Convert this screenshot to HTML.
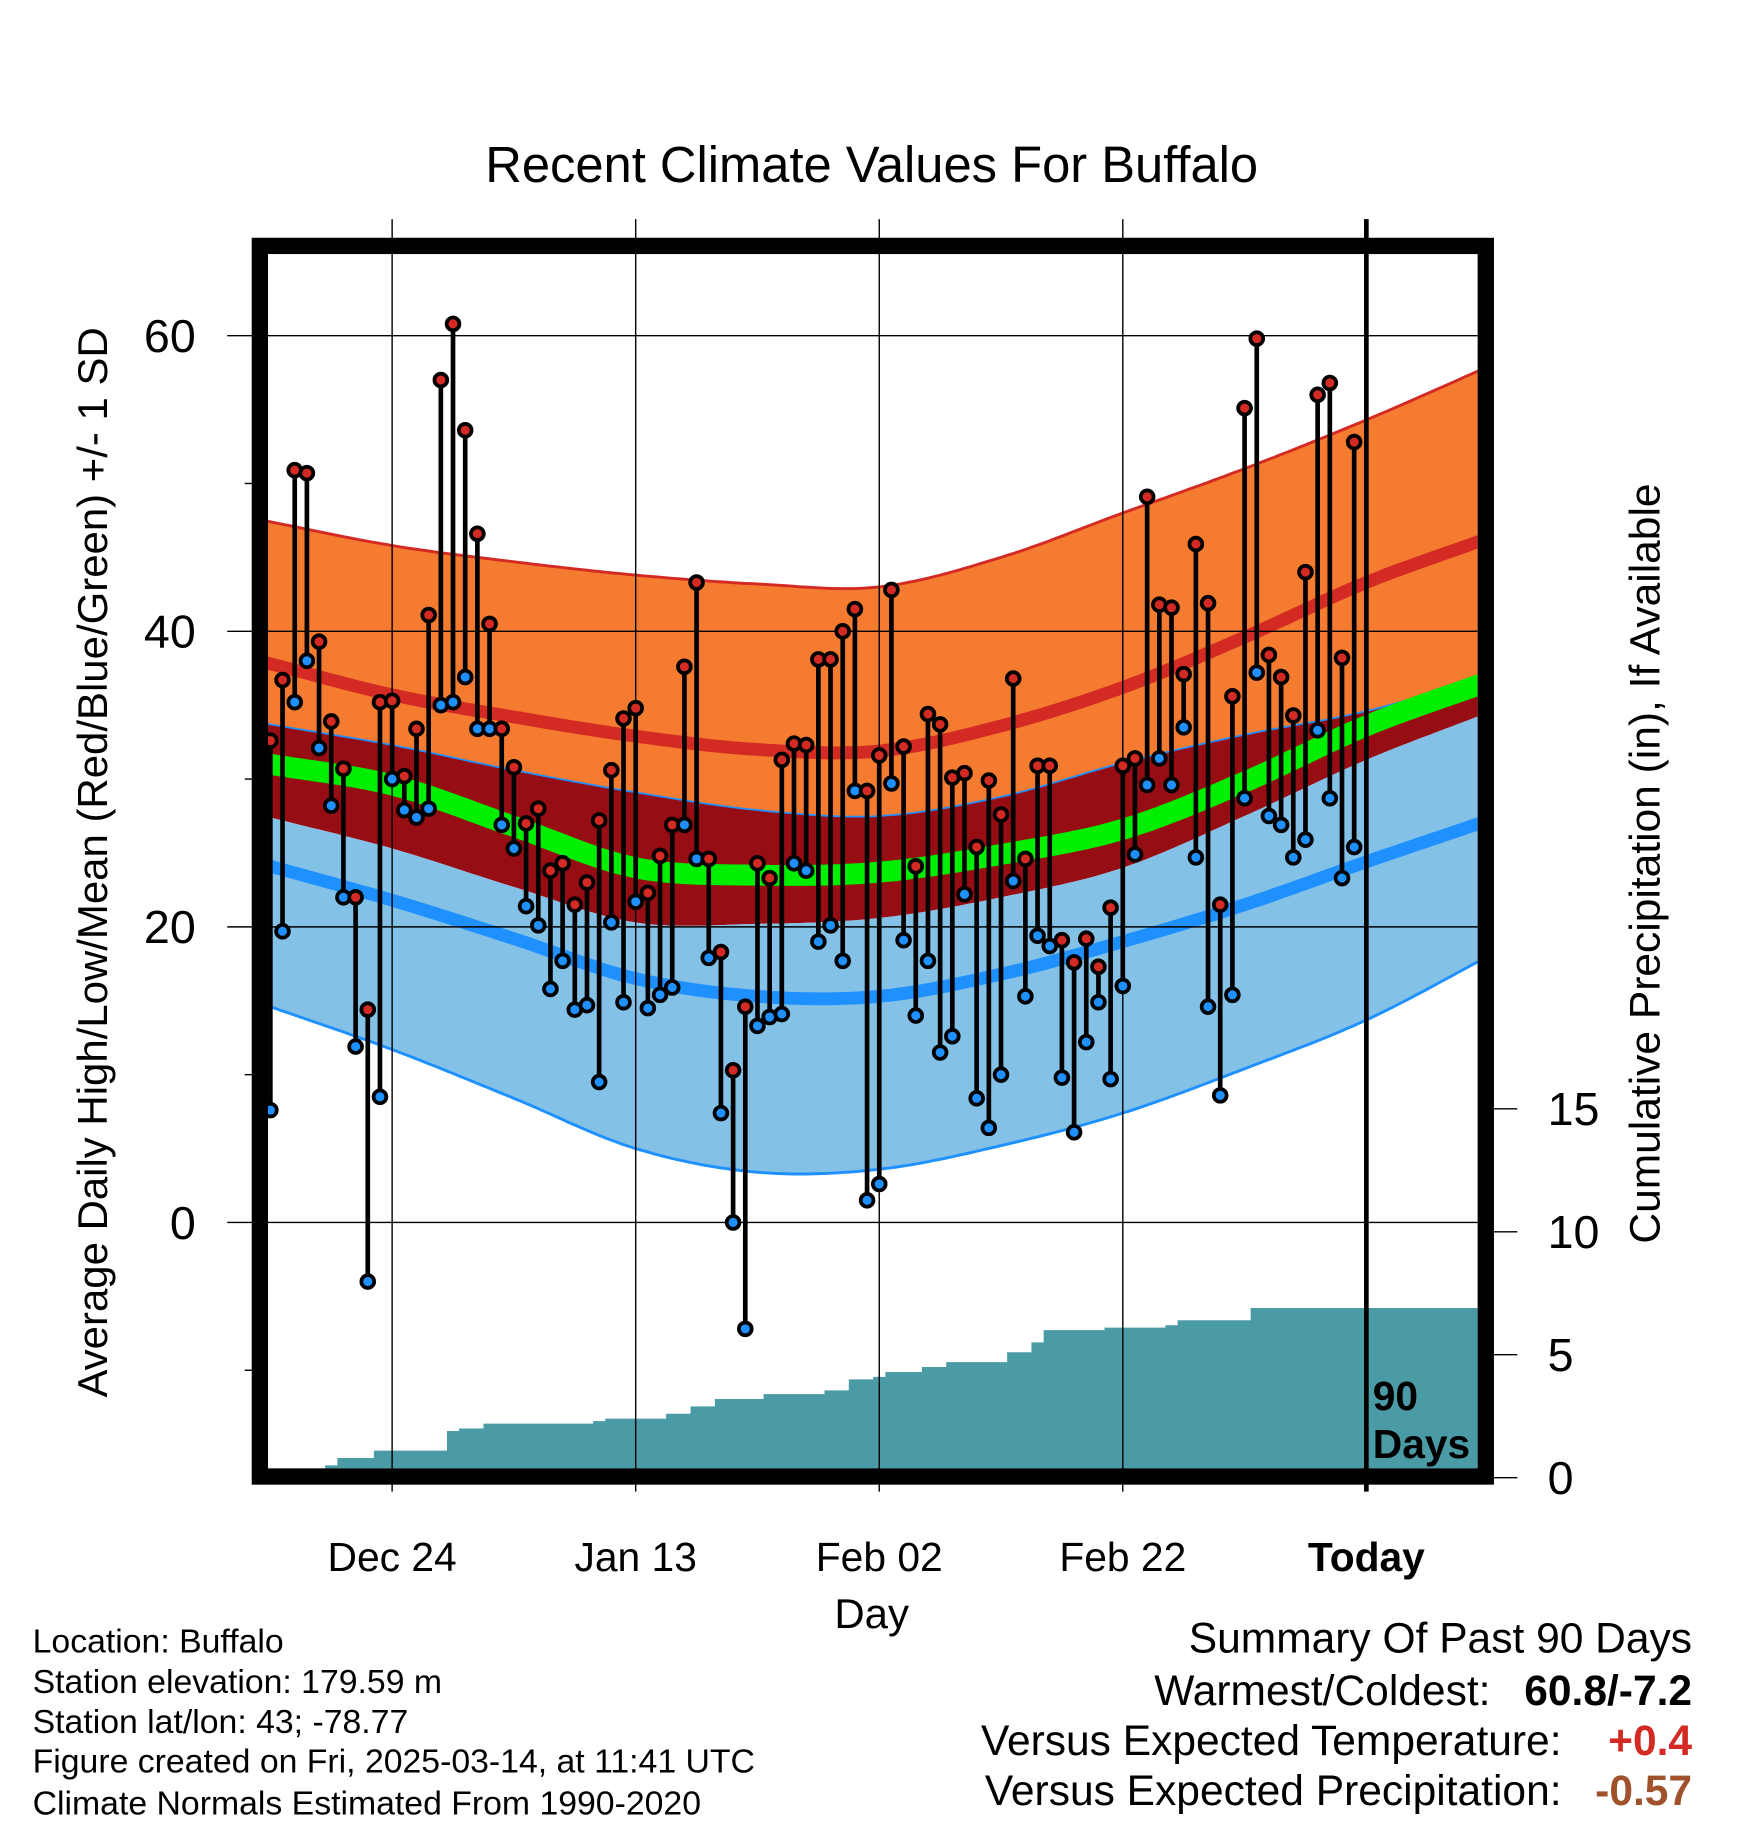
<!DOCTYPE html>
<html><head><meta charset="utf-8"><style>
html,body{margin:0;padding:0;background:#fff}
svg{display:block;font-family:"Liberation Sans",Arial,sans-serif}
</style></head><body>
<svg id="chart" width="1748" height="1828" viewBox="0 0 1500 1568.6" xmlns="http://www.w3.org/2000/svg">
<defs><clipPath id="pc"><rect x="230" y="218" width="1038" height="1042"/></clipPath></defs>
<text x="748" y="156" font-size="43.5" text-anchor="middle">Recent Climate Values For Buffalo</text>
<g id="plot" clip-path="url(#pc)"></g>
<g id="grid"></g>
<g id="marks" clip-path="url(#pc)"></g>
<rect x="223" y="211" width="1052" height="1056" fill="none" stroke="#000" stroke-width="14"/>
<g id="axes"></g>
<text transform="translate(92,740) rotate(-90)" font-size="36" text-anchor="middle">Average Daily High/Low/Mean (Red/Blue/Green) +/- 1 SD</text>
<text transform="translate(1424,741) rotate(-90)" font-size="36.5" text-anchor="middle">Cumulative Precipitation (in), If Available</text>
<text x="748" y="1397" font-size="36" text-anchor="middle">Day</text>
<text x="1178" y="1210" font-size="35" font-weight="bold">90</text>
<text x="1178" y="1251" font-size="35" font-weight="bold">Days</text>
<g font-size="29">
<text x="28" y="1418">Location: Buffalo</text>
<text x="28" y="1453">Station elevation: 179.59 m</text>
<text x="28" y="1487">Station lat/lon: 43; -78.77</text>
<text x="28" y="1521">Figure created on Fri, 2025-03-14, at 11:41 UTC</text>
<text x="28" y="1557">Climate Normals Estimated From 1990-2020</text>
</g>
<g font-size="36.5">
<text x="1452" y="1418" text-anchor="end">Summary Of Past 90 Days</text>
<text x="1279" y="1463" text-anchor="end">Warmest/Coldest:</text>
<text x="1452" y="1463" text-anchor="end" font-weight="bold">60.8/-7.2</text>
<text x="1340" y="1506" text-anchor="end">Versus Expected Temperature:</text>
<text x="1452" y="1506" text-anchor="end" font-weight="bold" fill="#d42a24">+0.4</text>
<text x="1340" y="1549" text-anchor="end">Versus Expected Precipitation:</text>
<text x="1452" y="1549" text-anchor="end" font-weight="bold" fill="#a0522d">-0.57</text>
</g>
</svg>
<script>
const highs=[32.6,36.7,50.9,50.7,39.3,33.9,30.7,22.0,14.4,35.2,35.3,30.2,33.4,41.1,57.0,60.8,53.6,46.6,40.5,33.4,30.8,27.0,28.0,23.8,24.3,21.5,23.0,27.2,30.6,34.1,34.8,22.3,24.8,26.9,37.6,43.3,24.6,18.3,10.3,14.6,24.3,23.3,31.3,32.4,32.3,38.1,38.1,40.0,41.5,29.2,31.6,42.8,32.2,24.1,34.4,33.7,30.1,30.4,25.4,29.9,27.6,36.8,24.6,30.9,30.9,19.1,17.6,19.2,17.3,21.3,30.9,31.4,49.1,41.8,41.6,37.1,45.9,41.9,21.5,35.6,55.1,59.8,38.4,36.9,34.3,44.0,56.0,56.8,38.2,52.8];
const lows=[7.6,19.7,35.2,38.0,32.1,28.2,22.0,11.9,-4.0,8.5,30.0,27.9,27.4,28.0,35.0,35.2,36.9,33.4,33.4,26.9,25.3,21.4,20.1,15.8,17.7,14.4,14.7,9.5,20.3,14.9,21.7,14.5,15.4,15.9,26.9,24.6,17.9,7.4,0.0,-7.2,13.3,13.9,14.1,24.3,23.8,19.0,20.1,17.7,29.2,1.5,2.6,29.7,19.1,14.0,17.7,11.5,12.6,22.2,8.4,6.4,10.0,23.1,15.3,19.4,18.7,9.8,6.1,12.2,14.9,9.7,16.0,24.9,29.6,31.4,29.6,33.5,24.7,14.6,8.6,15.4,28.7,37.2,27.5,26.9,24.7,25.9,33.3,28.7,23.3,25.4];
const precip=[0,0,0,0.1,0.3,0.5,0.8,0.8,0.8,1.1,1.1,1.1,1.1,1.1,1.1,1.9,2.0,2.0,2.2,2.2,2.2,2.2,2.2,2.2,2.2,2.2,2.2,2.3,2.4,2.4,2.4,2.4,2.4,2.6,2.6,2.9,2.9,3.2,3.2,3.2,3.2,3.4,3.4,3.4,3.4,3.4,3.55,3.55,4.0,4.0,4.1,4.3,4.3,4.3,4.5,4.5,4.7,4.7,4.7,4.7,4.7,5.1,5.1,5.5,6.0,6.0,6.0,6.0,6.0,6.1,6.1,6.1,6.1,6.1,6.2,6.4,6.4,6.4,6.4,6.4,6.4,6.9,6.9,6.9,6.9,6.9,6.9,6.9,6.9,6.9];
const normDays=[0,10,20,30,40,50,60,70,80,90,100];
const highUpper=[47.4,45.8,44.7,43.8,43.2,43.0,45.0,48.0,51.0,54.3,57.9];
const highMean=[37.8,35.7,34.2,32.9,32.0,31.9,33.6,36.2,39.6,43.3,46.3];
const highLower=[33.7,32.3,30.6,29.1,27.9,27.5,28.8,31.1,33.0,34.6,37.0];
const meanTemp=[31.0,29.6,26.8,24.0,23.5,23.7,24.9,26.6,29.8,33.6,36.6];
const lowUpper=[27.4,25.3,22.7,20.3,20.2,20.6,22.0,24.0,27.5,31.3,34.5];
const lowMean=[24.1,21.8,19.2,16.5,15.3,15.3,16.8,19.0,21.5,24.4,27.2];
const lowLower=[14.6,11.7,8.4,5.0,3.4,3.6,5.2,7.4,10.4,13.7,18.0];
const yTicks=[0,20,40,60];
const yMinor=[-10,10,30,50];
const pTicks=[0,5,10,15];
const xTickDays=[10,30,50,70,90];
const xTickLabels=["Dec 24","Jan 13","Feb 02","Feb 22","Today"];

const NS="http://www.w3.org/2000/svg";
const X=d=>232+10.45*d;
const Y=v=>1049-12.683*v;
const P=p=>1268-21.1*p;
function mk(tag,attrs,parent){const e=document.createElementNS(NS,tag);for(const k in attrs)e.setAttribute(k,attrs[k]);parent.appendChild(e);return e;}
function interp(vals,d){
  const n=normDays.length;
  let i=0;while(i<n-2&&d>normDays[i+1])i++;
  const x0=normDays[i],x1=normDays[i+1];const t=(d-x0)/(x1-x0);
  const p1=vals[i],p2=vals[i+1];
  const p0=i>0?vals[i-1]:2*p1-p2;
  const p3=i+2<n?vals[i+2]:2*p2-p1;
  const t2=t*t,t3=t2*t;
  return 0.5*((2*p1)+(-p0+p2)*t+(2*p0-5*p1+4*p2-p3)*t2+(-p0+3*p1-3*p2+p3)*t3);
}
function pts(vals){const a=[];for(let d=-1;d<=100;d+=0.5)a.push([X(d),Y(interp(vals,d))]);return a;}
function line(a){return a.map((p,i)=>(i?'L':'M')+p[0].toFixed(1)+','+p[1].toFixed(1)).join('');}
function band(up,lo){const a=pts(up),b=pts(lo).reverse();return line(a)+b.map(p=>'L'+p[0].toFixed(1)+','+p[1].toFixed(1)).join('')+'Z';}
const plot=document.getElementById('plot');
let e;
e=mk('path',{d:band(highUpper,highLower),fill:'#f47b2f'},plot);

e=mk('path',{d:band(highLower,lowUpper),fill:'#960d14'},plot);

e=mk('path',{d:band(lowUpper,lowLower),fill:'#84c1e7'},plot);

e=mk('path',{d:line(pts(highUpper)),fill:'none',stroke:'#d42a24','stroke-width':2.5},plot);

e=mk('path',{d:line(pts(highLower)),fill:'none',stroke:'#1e90ff','stroke-width':1.5},plot);

e=mk('path',{d:line(pts(lowLower)),fill:'none',stroke:'#1e90ff','stroke-width':2.5},plot);

e=mk('path',{d:line(pts(highMean)),fill:'none',stroke:'#d42a24','stroke-width':11},plot);

e=mk('path',{d:line(pts(meanTemp)),fill:'none',stroke:'#00ee00','stroke-width':18},plot);

e=mk('path',{d:line(pts(lowMean)),fill:'none',stroke:'#1e90ff','stroke-width':11},plot);

let pd='M'+X(-0.5)+','+P(0);
precip.forEach((v,i)=>{pd+='L'+X(i-0.5)+','+P(v)+'L'+X(i+0.5)+','+P(v);});
pd+='L'+X(100)+','+P(precip[precip.length-1])+'L'+X(100)+','+P(0)+'Z';
e=mk('path',{d:pd,fill:'#4a9ba5'},plot);


const grid=document.getElementById('grid');
yTicks.forEach(v=>{
  const g=mk('line',{x1:195,x2:1268,y1:Y(v),y2:Y(v),stroke:'#000','stroke-width':1.2},grid);
  
});
xTickDays.forEach((d,i)=>{
  const g=mk('line',{x1:X(d),x2:X(d),y1:188,y2:1280,stroke:'#000','stroke-width':i==4?4:1.2},grid);
  
});
const marks=document.getElementById('marks');
highs.forEach((h,i)=>{
  const s=mk('line',{x1:X(i),x2:X(i),y1:Y(h),y2:Y(lows[i]),stroke:'#000','stroke-width':4},marks);
  
});
highs.forEach((h,i)=>{
  const c=mk('circle',{cx:X(i),cy:Y(lows[i]),r:5.5,fill:'#1e90ff',stroke:'#000','stroke-width':3.2},marks);
  
  const r=mk('circle',{cx:X(i),cy:Y(h),r:5.5,fill:'#d42a24',stroke:'#000','stroke-width':3.2},marks);
  
});
const axes=document.getElementById('axes');
yTicks.forEach(v=>{
  const t=mk('text',{x:168,y:Y(v)+14,'font-size':40,'text-anchor':'end'},axes);t.textContent=v;
  
});
yMinor.forEach(v=>{
  const l=mk('line',{x1:210,x2:222,y1:Y(v),y2:Y(v),stroke:'#000','stroke-width':1.2},axes);
  
});
pTicks.forEach(v=>{
  const l=mk('line',{x1:1282,x2:1302,y1:P(v),y2:P(v),stroke:'#000','stroke-width':1.2},axes);
  
  const t=mk('text',{x:1328,y:P(v)+14,'font-size':40},axes);t.textContent=v;
  
});
xTickDays.forEach((d,i)=>{
  const t=mk('text',{x:X(d),y:1348,'font-size':35,'text-anchor':'middle','font-weight':i==4?'bold':'normal'},axes);
  t.textContent=xTickLabels[i];
  
});
</script>
</body></html>
